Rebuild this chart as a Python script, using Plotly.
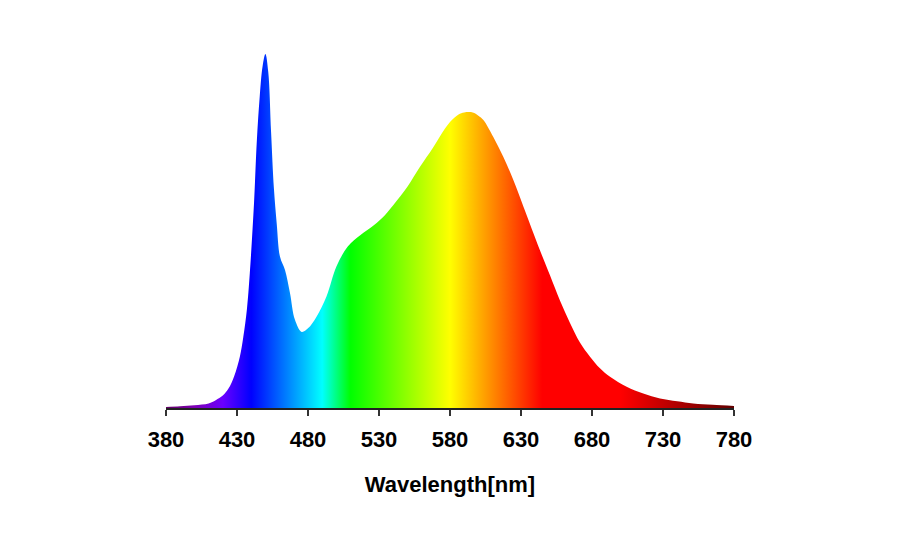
"""
LED spectrum chart with a rainbow fill
"""
import plotly.graph_objects as go

# wavelength (nm) and relative intensity (% of peak)
wavelength = [380, 390, 400, 410, 415, 420, 424, 428, 432, 434.4, 437, 439,
              442, 444, 446, 448, 450, 452, 454, 456, 458, 460.3, 463.8, 467.3,
              470.8, 475.5, 480, 486, 493, 500, 508, 517, 525, 532, 540, 550,
              559, 568, 573, 580, 586, 590, 596, 600, 603.5, 610.5, 617.5,
              624.6, 631.6, 643.4, 650.4, 657.5, 664.5, 671.5, 678.6,
              685.6, 692.7, 704.4, 716.1, 727.9, 740, 751.3, 765, 780]
intensity = [0.3, 0.5, 0.8, 1.3, 2.2, 3.5, 5.5, 9, 14.5, 20, 28, 38,
             58, 75.7, 88, 96.5, 100, 95, 78, 62, 52, 42.7, 39, 32.5,
             24.9, 21.5, 22.5, 25.8, 31.5, 40, 45.6, 48.9, 51.2, 53.6, 57.3, 62.5,
             68.2, 73.5, 76.8, 80.8, 82.9, 83.5, 83.5, 82.6, 81.4, 76.6, 71,
             64.4, 57, 44.5, 37.5, 30.3, 24, 18.5, 14.5,
             11.2, 8.8, 6, 4.1, 2.7, 1.9, 1.3, 0.9, 0.6]

tick_vals = [380, 430, 480, 530, 580, 630, 680, 730, 780]

# spectrum colours along the x axis (380 -> 780 nm)
spectrum = [
    (380, "rgb(97,0,97)"),
    (400, "rgb(125,0,180)"),
    (420, "rgb(106,0,255)"),
    (440, "rgb(0,0,255)"),
    (490, "rgb(0,255,255)"),
    (510, "rgb(0,255,0)"),
    (580, "rgb(255,255,0)"),
    (645, "rgb(255,0,0)"),
    (700, "rgb(255,0,0)"),
    (780, "rgb(97,0,0)"),
]
colorscale = [[(w - 380) / 400, c] for w, c in spectrum]

fig = go.Figure()

fig.add_trace(go.Scatter(
    x=wavelength,
    y=intensity,
    mode='lines',
    line=dict(width=0, shape='spline', smoothing=1.0, color='rgba(0,0,0,0)'),
    fill='tozeroy',
    fillgradient=dict(type='horizontal', colorscale=colorscale,
                      start=380, stop=780),
    hoverinfo='x+y',
    showlegend=False,
))

# the page body adds 8px, so margins are shifted by that
fig.update_layout(
    width=900,
    height=540,
    margin=dict(l=158, r=174, t=22, b=140),
    plot_bgcolor='white',
    paper_bgcolor='white',
    font=dict(family="Arial, 'Liberation Sans', sans-serif", color='black'),
)

fig.update_xaxes(
    range=[380, 780],
    tickvals=tick_vals,
    ticktext=[f"<b>{v}</b>" for v in tick_vals],
    tickfont=dict(size=22),
    ticks='outside',
    ticklen=6,
    tickwidth=1.5,
    tickcolor='#333333',
    ticklabelstandoff=5,
    showline=True,
    linecolor='#222222',
    linewidth=2,
    showgrid=False,
    zeroline=False,
    title=dict(text="<b>Wavelength[nm]</b>", font=dict(size=22), standoff=25),
)

fig.update_yaxes(
    range=[0, 106.8],
    visible=False,
    showgrid=False,
    zeroline=False,
)

fig.write_html("out.html")
